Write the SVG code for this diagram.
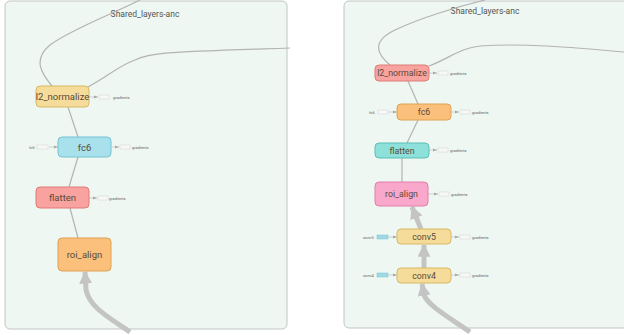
<svg xmlns="http://www.w3.org/2000/svg" width="624" height="335" viewBox="0 0 624 335">
<defs>
<marker id="ah" viewBox="0 0 10 10" refX="9" refY="5" markerWidth="2.6" markerHeight="2.6" orient="auto" markerUnits="strokeWidth">
<path d="M0,0 L10,5 L0,10 Z" fill="#c4c4c4"/>
</marker>
<marker id="sa" viewBox="0 0 10 10" refX="10" refY="5" markerWidth="4" markerHeight="4" orient="auto" markerUnits="userSpaceOnUse">
<path d="M0,1 L10,5 L0,9 Z" fill="#aaaaaa"/>
</marker>
<style>
.panel{fill:#eef7f2;stroke:#c2c6c3;stroke-width:1}
.title{font-family:Roboto,"Liberation Sans",sans-serif;font-size:8.5px;fill:#555}
.lbl{font-family:Roboto,"Liberation Sans",sans-serif;font-size:9.5px;fill:#5a4a3a;text-anchor:middle;dominant-baseline:central}
.lbr{font-family:Roboto,"Liberation Sans",sans-serif;font-size:8.8px;fill:#5a4a3a;text-anchor:middle;dominant-baseline:central}
.tiny{font-family:Roboto,"Liberation Sans",sans-serif;font-size:4px;fill:#666;dominant-baseline:central}
.ybox{fill:#f6dc9b;stroke:#d9b862}
.bbox{fill:#a8e1ec;stroke:#74c2d2}
.sbox{fill:#f8a39f;stroke:#e07b76}
.obox{fill:#fbc17c;stroke:#e0a052}
.tbox{fill:#8ee0da;stroke:#5cbfb8}
.pbox{fill:#f9a7cb;stroke:#e27ea9}
.gb{fill:#f7f7f7;stroke:#d4d4d4;stroke-width:0.5}
.cb{fill:#9fd9e6;stroke:#7cc4d4;stroke-width:0.5}
.e{fill:none;stroke:#b3b3b3;stroke-width:1.2}
.ge{fill:none;stroke:#b8b8b8;stroke-width:0.6;marker-end:url(#sa)}
.big{fill:none;stroke:#c4c4c4;stroke-width:5;marker-end:url(#ah)}
</style>
</defs>

<g id="panel-left">
<rect class="panel" x="5" y="1" width="282" height="328" rx="5"/>
<text class="title" x="145" y="17" text-anchor="middle">Shared_layers-anc</text>
</g>
<g id="panel-right">
<rect class="panel" x="344" y="1" width="290" height="327" rx="5"/>
<text class="title" x="485" y="14" text-anchor="middle">Shared_layers-anc</text>
</g>

<g id="connectors">
<path class="e" d="M52,86 C42,74 32,60 50,45 C70,30 110,15 140,0"/>
<path class="e" d="M88,87 C110,75 120,65 135,60 C150,52 170,52 290,48"/>
<path class="e" d="M68,107 L78,137"/>
<path class="e" d="M78,157 L69,187"/>
<path class="e" d="M70,208 L78,238"/>
<path class="big" d="M130,332 C110,318 90,308 86,290 L85,272"/>

<path class="e" d="M390,65 C378,55 370,42 395,30 C420,18 460,6 485,0"/>
<path class="e" d="M429,66 C450,58 460,48 480,46 C520,43 570,47 624,52"/>
<path class="e" d="M408,81 L418,104"/>
<path class="e" d="M418,120 L407,143"/>
<path class="e" d="M402,158 L402,182"/>
<path class="big" d="M470,332 C445,315 428,305 424,295 L422,284"/>
<path class="big" d="M424,268 L424,245"/>
<path class="big" d="M421,229 L412,207"/>

<path class="ge" d="M89,97 L98,97"/>
<path class="ge" d="M111,147 L119,147"/>
<path class="ge" d="M49,147 L58,147"/>
<path class="ge" d="M89,198 L97,198"/>
<path class="ge" d="M429,73 L437,73"/>
<path class="ge" d="M451,112 L459,112"/>
<path class="ge" d="M388,112 L397,112"/>
<path class="ge" d="M429,150 L437,150"/>
<path class="ge" d="M428,194 L438,194"/>
<path class="ge" d="M451,237 L459,237"/>
<path class="ge" d="M388,237 L397,237"/>
<path class="ge" d="M451,275 L459,275"/>
<path class="ge" d="M388,275 L397,275"/>
</g>

<g id="l2_normalize-left">
<rect class="ybox" x="36" y="86" width="53" height="21" rx="4"/>
<text class="lbl" x="62.5" y="96.5">l2_normalize</text>
<rect class="gb" x="99" y="95" width="10" height="4"/>
<text class="tiny" x="113" y="97">gradients</text>
</g>
<g id="fc6-left">
<rect class="bbox" x="58" y="137" width="53" height="20" rx="4"/>
<text class="lbl" x="84.5" y="147">fc6</text>
<text class="tiny" x="29" y="147">fc6</text>
<rect class="gb" x="37" y="145" width="11" height="4"/>
<rect class="gb" x="120" y="145" width="10" height="4"/>
<text class="tiny" x="132" y="147">gradients</text>
</g>
<g id="flatten-left">
<rect class="sbox" x="36" y="187" width="53" height="21" rx="4"/>
<text class="lbl" x="62.5" y="197.5">flatten</text>
<rect class="gb" x="98" y="196" width="10" height="4"/>
<text class="tiny" x="109" y="198">gradients</text>
</g>
<g id="roi_align-left">
<rect class="obox" x="58" y="238" width="53" height="33" rx="4"/>
<text class="lbl" x="84.5" y="254.5">roi_align</text>
</g>

<g id="l2_normalize-right">
<rect class="sbox" x="375" y="65" width="54" height="16" rx="4"/>
<text class="lbr" x="402" y="73">l2_normalize</text>
<rect class="gb" x="438" y="71" width="10" height="4"/>
<text class="tiny" x="450" y="73">gradients</text>
</g>
<g id="fc6-right">
<rect class="obox" x="397" y="104" width="54" height="16" rx="4"/>
<text class="lbr" x="424" y="112">fc6</text>
<text class="tiny" x="369" y="112">fc6</text>
<rect class="gb" x="378" y="110" width="10" height="4"/>
<rect class="gb" x="460" y="110" width="10" height="4"/>
<text class="tiny" x="472" y="112">gradients</text>
</g>
<g id="flatten-right">
<rect class="tbox" x="375" y="143" width="54" height="15" rx="4"/>
<text class="lbr" x="402" y="150.5">flatten</text>
<rect class="gb" x="438" y="148" width="10" height="4"/>
<text class="tiny" x="450" y="150">gradients</text>
</g>
<g id="roi_align-right">
<rect class="pbox" x="375" y="182" width="53" height="24" rx="4"/>
<text class="lbr" x="401.5" y="194">roi_align</text>
<rect class="gb" x="439" y="192" width="10" height="4"/>
<text class="tiny" x="451" y="194">gradients</text>
</g>
<g id="conv5-right">
<rect class="ybox" x="397" y="229" width="54" height="15" rx="4"/>
<text class="lbr" x="424" y="236.5">conv5</text>
<text class="tiny" x="363" y="237">conv5</text>
<rect class="cb" x="377" y="235" width="11" height="4"/>
<rect class="gb" x="460" y="235" width="10" height="4"/>
<text class="tiny" x="472" y="237">gradients</text>
</g>
<g id="conv4-right">
<rect class="ybox" x="397" y="268" width="54" height="15" rx="4"/>
<text class="lbr" x="424" y="275.5">conv4</text>
<text class="tiny" x="363" y="275">conv4</text>
<rect class="cb" x="377" y="273" width="11" height="4"/>
<rect class="gb" x="460" y="273" width="10" height="4"/>
<text class="tiny" x="472" y="275">gradients</text>
</g>
</svg>
